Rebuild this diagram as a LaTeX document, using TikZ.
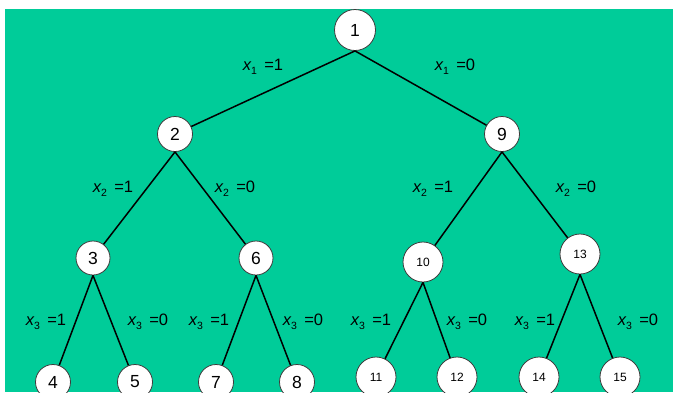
\documentclass[tikz,border=0pt]{standalone}
\usepackage{fontspec}
\setmainfont{Liberation Sans}
\definecolor{bggreen}{RGB}{0,204,153}
\definecolor{rimgray}{RGB}{60,60,60}
\newcommand{\xlab}[2]{{\itshape x}\raisebox{-0.45ex}{\fontsize{10.5}{11}\selectfont #1}\ \,=#2}
\tikzset{
  nd/.style={circle, draw=rimgray, line width=0.8pt, fill=white, inner sep=0pt,
    minimum size=#1, font=\fontsize{17.5}{19}\selectfont},
  ndsmall/.style={circle, draw=rimgray, line width=0.8pt, fill=white, inner sep=0pt,
    minimum size=40pt, font=\fontsize{12}{14}\selectfont},
  edge/.style={line width=1.5pt, black},
  lab/.style={font=\fontsize{16.5}{18}\selectfont, inner sep=0pt}
}
\begin{document}
\begin{tikzpicture}[x=1pt,y=-1pt]
\useasboundingbox (0,0) rectangle (673,392);
\clip (0,0) rectangle (673,392);
\fill[white] (0,0) rectangle (673,392);
\fill[bggreen] (5,9) rectangle (673,392);
% nodes
\node[nd=41pt] (n1) at (355,30) {1};
\node[nd=35pt] (n2) at (175,134) {2};
\node[nd=35pt] (n9) at (502,134) {9};
\node[nd=34pt] (n3) at (93,258) {3};
\node[nd=34pt] (n6) at (256,258) {6};
\node[ndsmall] (n10) at (423,262) {10};
\node[ndsmall] (n13) at (580,254) {13};
\node[nd=35pt] (n4) at (53,382) {4};
\node[nd=35pt] (n5) at (135,382) {5};
\node[nd=35pt] (n7) at (216,382) {7};
\node[nd=35pt] (n8) at (297,382) {8};
\node[ndsmall] (n11) at (376,377) {11};
\node[ndsmall] (n12) at (457,377) {12};
\node[ndsmall] (n14) at (539,377) {14};
\node[ndsmall] (n15) at (620,377) {15};
% edges
\draw[edge] (n1.south) -- (n2);
\draw[edge] (n1.south) -- (n9);
\draw[edge] (n2.south) -- (n3);
\draw[edge] (n2.south) -- (n6);
\draw[edge] (n9.south) -- (n10);
\draw[edge] (n9.south) -- (n13);
\draw[edge] (n3.south) -- (n4);
\draw[edge] (n3.south) -- (n5);
\draw[edge] (n6.south) -- (n7);
\draw[edge] (n6.south) -- (n8);
\draw[edge] (n10.south) -- (n11);
\draw[edge] (n10.south) -- (n12);
\draw[edge] (n13.south) -- (n14);
\draw[edge] (n13.south) -- (n15);
% labels
\node[lab] (l11) at (263,67) {\xlab{1}{1}};
\node[lab] (l10) at (455,67) {\xlab{1}{0}};
\node[lab] (l21) at (113,189) {\xlab{2}{1}};
\node[lab] (l20) at (235,189) {\xlab{2}{0}};
\node[lab] (l21b) at (433,189) {\xlab{2}{1}};
\node[lab] (l20b) at (576,189) {\xlab{2}{0}};
\node[lab] (l31) at (46,322) {\xlab{3}{1}};
\node[lab] (l30) at (148,322) {\xlab{3}{0}};
\node[lab] (l31b) at (209,322) {\xlab{3}{1}};
\node[lab] (l30b) at (303,322) {\xlab{3}{0}};
\node[lab] (l31c) at (371,322) {\xlab{3}{1}};
\node[lab] (l30c) at (467,322) {\xlab{3}{0}};
\node[lab] (l31d) at (535,322) {\xlab{3}{1}};
\node[lab] (l30d) at (638,322) {\xlab{3}{0}};
\end{tikzpicture}
\end{document}
